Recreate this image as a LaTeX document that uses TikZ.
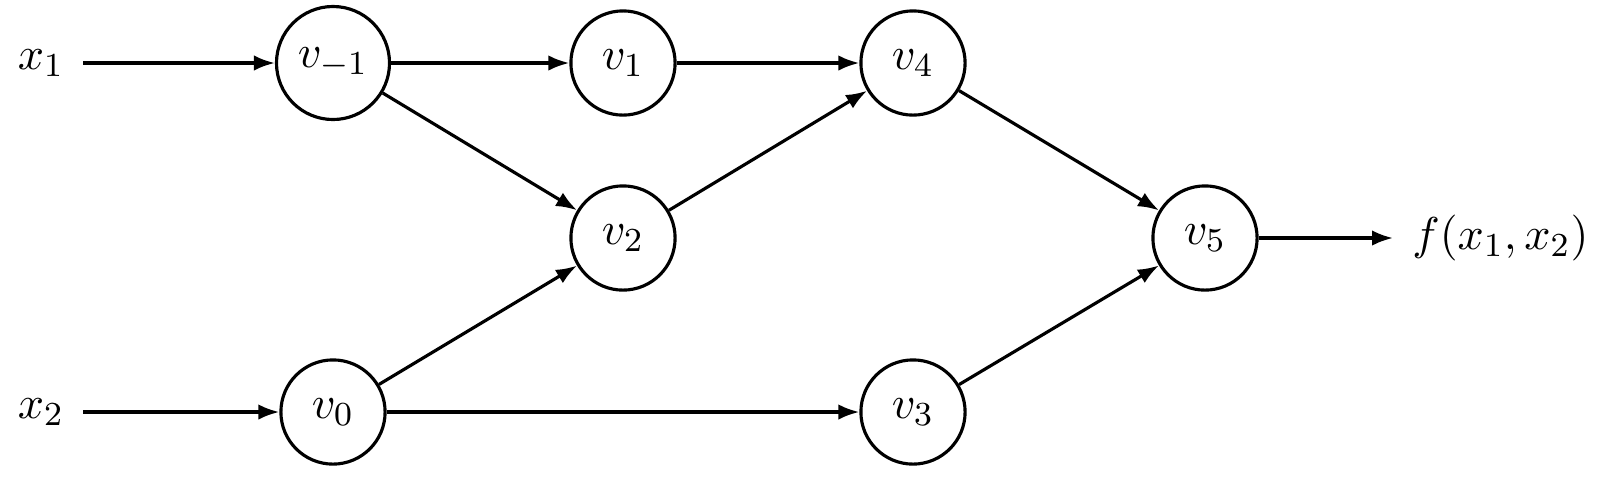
\documentclass[tikz,border=0pt]{standalone}
\usetikzlibrary{arrows.meta}
\begin{document}
\begin{tikzpicture}[x=0.238pt,y=-0.238pt,
  font=\fontsize{10.95pt}{13pt}\selectfont,
  vert/.style={circle,draw,line width=0.75pt,minimum size=24.8pt,inner sep=0pt},
  lab/.style={inner sep=4.4pt},
  conn/.style={line width=0.75pt,-{Latex[length=5pt,width=3.7pt]}}]
\useasboundingbox (0,0) rectangle (1602,476);
\node[lab] (x1) at (41,63) {$x_1$};
\node[lab] (x2) at (41,412) {$x_2$};
\node[vert,minimum size=26.9pt] (vm1) at (333,63) {$v_{-1}$};
\node[vert] (v0) at (333,412) {$v_0$};
\node[vert] (v1) at (623,63) {$v_1$};
\node[vert] (v2) at (623,238) {$v_2$};
\node[vert] (v3) at (913,412) {$v_3$};
\node[vert] (v4) at (913,63) {$v_4$};
\node[vert] (v5) at (1205,238) {$v_5$};
\node[lab,anchor=west] (f) at (1393,238) {$f(x_1,x_2)$};
\draw[conn] (x1) -- (vm1);
\draw[conn] (x2) -- (v0);
\draw[conn] (vm1) -- (v1);
\draw[conn] (vm1) -- (v2);
\draw[conn] (v0) -- (v2);
\draw[conn] (v0) -- (v3);
\draw[conn] (v1) -- (v4);
\draw[conn] (v2) -- (v4);
\draw[conn] (v4) -- (v5);
\draw[conn] (v3) -- (v5);
\draw[conn] (v5) -- (f);
\end{tikzpicture}
\end{document}
